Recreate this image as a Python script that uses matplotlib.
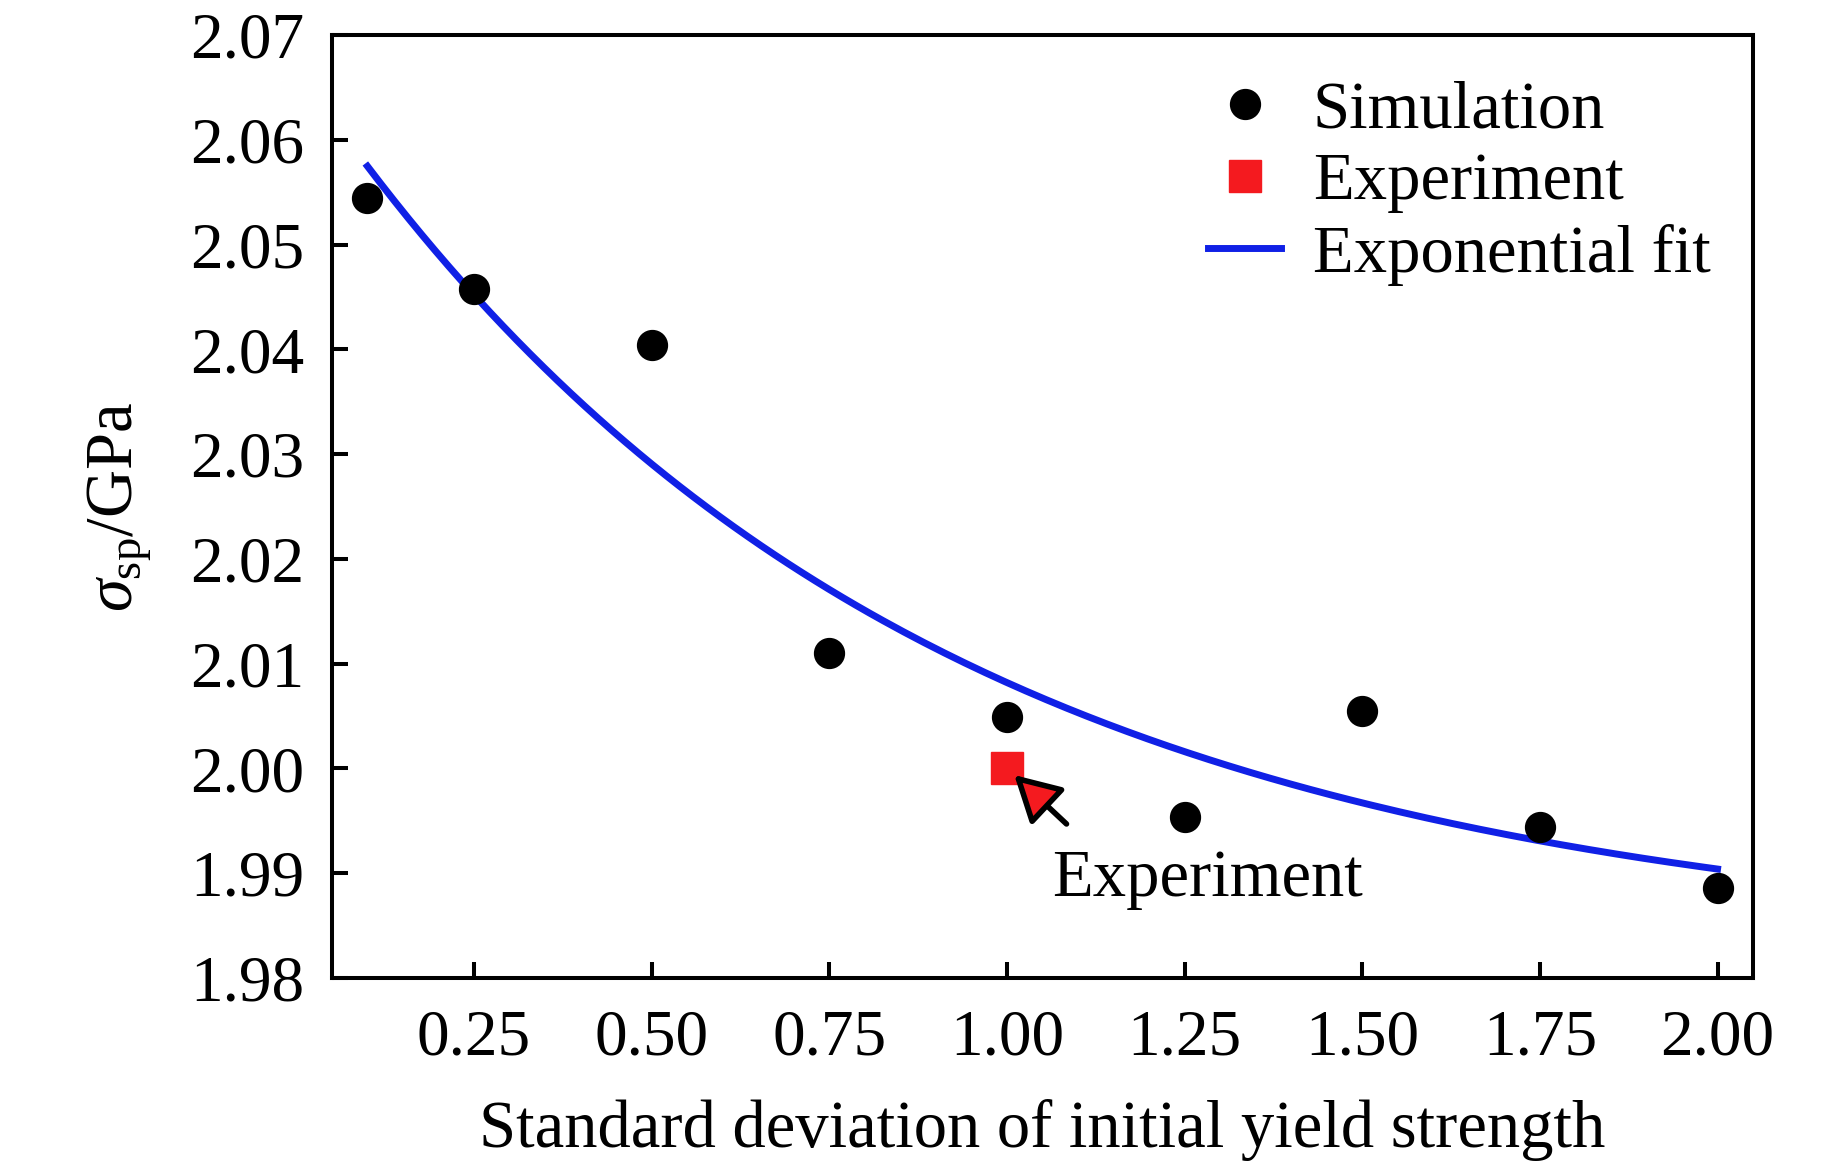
import numpy as np
import matplotlib
matplotlib.use("Agg")
import matplotlib.pyplot as plt

plt.rcParams['font.family'] = ['Liberation Serif', 'DejaVu Serif']
plt.rcParams['mathtext.fontset'] = 'custom'
plt.rcParams['mathtext.rm'] = 'Liberation Serif'
plt.rcParams['mathtext.it'] = 'Liberation Serif:italic'

# simulation points
sim_x = [0.1, 0.25, 0.5, 0.75, 1.0, 1.25, 1.5, 1.75, 2.0]
sim_y = [2.0544, 2.0458, 2.0404, 2.0110, 2.0049, 1.9954, 2.0055, 1.9944, 1.9886]

# experiment point
exp_x = [1.0]
exp_y = [2.000]

# exponential fit y = y0 + A*exp(-x/t), parameters
fit_y0 = 1.98267
fit_A = 0.0843
fit_t = 0.837
fit_range = (0.1, 2.0)

xticks = [0.25, 0.50, 0.75, 1.00, 1.25, 1.50, 1.75, 2.00]
yticks = [1.98, 1.99, 2.00, 2.01, 2.02, 2.03, 2.04, 2.05, 2.06, 2.07]

fs = 47
fig = plt.figure(figsize=(18.43, 11.64), dpi=100)
ax = fig.add_axes([0.1801, 0.1598, 0.7711, 0.8101])

xf = np.linspace(fit_range[0], fit_range[1], 200)
yf = fit_y0 + fit_A * np.exp(-xf / fit_t)

ax.plot(sim_x, sim_y, 'o', color='black', ms=21.5, ls='none', label='Simulation', zorder=3)
ax.plot(exp_x, exp_y, 's', color='#f41a1f', ms=23, ls='none', label='Experiment', zorder=4)
ax.plot(xf, yf, color='#1020e6', lw=5, label='Exponential fit', zorder=2)

# arrow pointing at the experiment
ax.annotate('', xy=(1.0103, 1.99937), xytext=(1.0838, 1.9947),
            arrowprops=dict(arrowstyle='-|>,head_length=2.8,head_width=1.55',
                            mutation_scale=10, fc='#f41a1f', ec='black', lw=4,
                            shrinkA=0, shrinkB=0), zorder=5)
ax.text(1.064, 1.9878, 'Experiment', fontsize=fs + 1, ha='left', va='baseline')

ax.set_xlim(0.05, 2.05)
ax.set_ylim(1.98, 2.07)
ax.set_xticks(xticks)
ax.set_xticklabels([f"{v:.2f}" for v in xticks])
ax.set_yticks(yticks)
ax.set_yticklabels([f"{v:.2f}" for v in yticks])
ax.tick_params(direction='in', length=11.5, width=2.9, labelsize=fs)
ax.tick_params(axis='x', pad=22)
ax.tick_params(axis='y', pad=20)
for s in ax.spines.values():
    s.set_linewidth(2.9)

ax.set_xlabel('Standard deviation of initial yield strength', fontsize=fs + 1, labelpad=22)
ax.set_ylabel(r'$\sigma_{\rm sp}$/GPa', fontsize=fs + 1, labelpad=26)

leg = ax.legend(loc='upper left', bbox_to_anchor=(0.6165, 0.952), frameon=False,
                fontsize=fs + 1, handlelength=1.1, handletextpad=0.47,
                labelspacing=0.16, borderpad=0, borderaxespad=0)

fig.savefig('out.png', dpi=100)
